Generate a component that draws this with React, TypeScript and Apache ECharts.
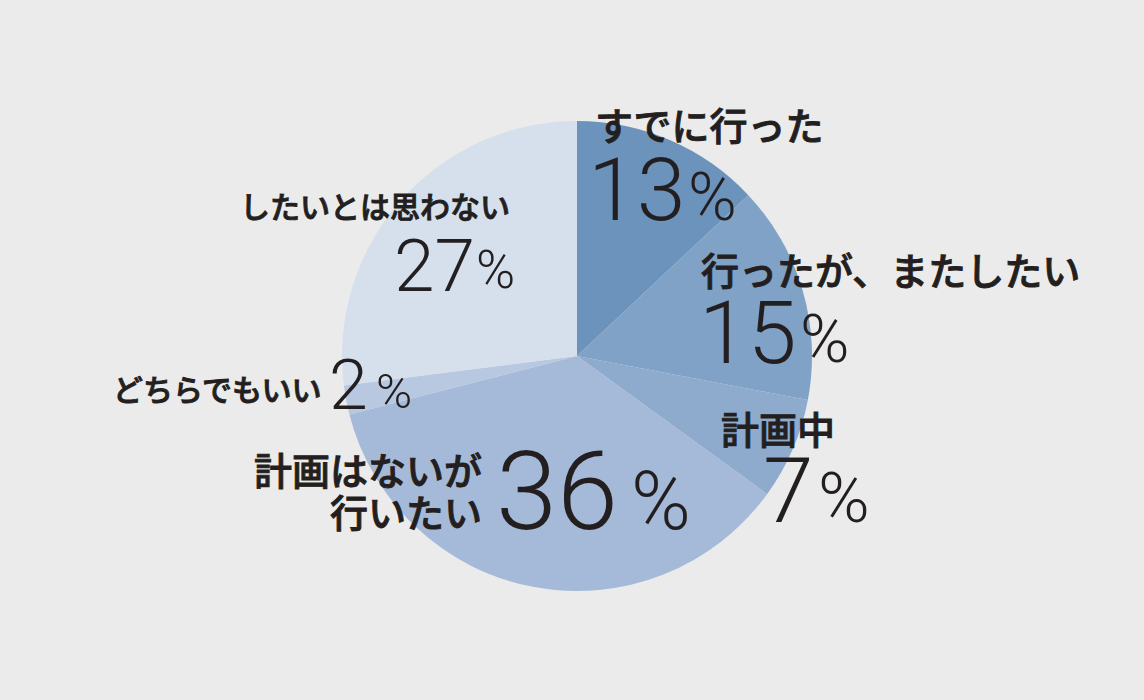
import React, { useEffect, useRef } from 'react';
import * as echarts from 'echarts';

const categories = ['すでに行った', '行ったが、またしたい', '計画中', '計画はないが\n行いたい', 'どちらでもいい', 'したいとは思わない'];
const values = [13, 15, 7, 36, 2, 27];
const sliceColors = ['#6b93bc', '#7fa2c6', '#8eabcd', '#a5bad8', '#b8c8e0', '#d6e0ed'];

// label placement (pixels), kept apart from data
const labelPlaces = [
  { nx: 595, ny: 123, nAlign: 'left', nSize: 38, vx: 588, vy: 189, vSize: 88, px: 688, py: 197, pSize: 66 },
  { nx: 701, ny: 268, nAlign: 'left', nSize: 38, vx: 699, vy: 332, vSize: 88, px: 800, py: 339, pSize: 67 },
  { nx: 721, ny: 427, nAlign: 'left', nSize: 38, vx: 763, vy: 491, vSize: 91, px: 818, py: 498, pSize: 70 },
  { nx: 482, ny: 489, nAlign: 'right', nSize: 38, vx: 496, vy: 491, vSize: 110, px: 631, py: 501, pSize: 81 },
  { nx: 113, ny: 388, nAlign: 'left', nSize: 30, vx: 329, vy: 385, vSize: 70, px: 376, py: 391, pSize: 49 },
  { nx: 510, ny: 205, nAlign: 'right', nSize: 30, vx: 394, vy: 266, vSize: 73, px: 476, py: 270, pSize: 53 },
];

const CJK = '"Noto Sans CJK JP", sans-serif';
const NUM = 'Roboto, "Noto Sans", sans-serif';
const INK = '#231f20';

export default function App() {
  const ref = useRef<HTMLDivElement>(null);
  useEffect(() => {
    if (!ref.current) return;
    const chart = echarts.init(ref.current, undefined, { renderer: 'svg' });
    const texts: any[] = [];
    labelPlaces.forEach((p, i) => {
      texts.push({
        type: 'text', x: p.nx, y: p.ny, silent: true, z: 100,
        style: {
          text: categories[i], fill: INK, stroke: INK, lineWidth: 0.9,
          fontSize: p.nSize, fontFamily: CJK, fontWeight: 500,
          lineHeight: 42, align: p.nAlign, verticalAlign: 'middle', textAlign: p.nAlign, textVerticalAlign: 'middle',
        },
      });
      texts.push({
        type: 'text', x: p.vx, y: p.vy, silent: true, z: 100,
        style: {
          text: String(values[i]), fill: INK, fontSize: p.vSize, fontFamily: NUM, fontWeight: 300,
          align: 'left', verticalAlign: 'middle', textAlign: 'left', textVerticalAlign: 'middle',
        },
      });
      texts.push({
        type: 'text', x: p.px, y: p.py, silent: true, z: 100,
        style: {
          text: '%', fill: INK, fontSize: p.pSize, fontFamily: NUM, fontWeight: 300,
          align: 'left', verticalAlign: 'middle', textAlign: 'left', textVerticalAlign: 'middle',
        },
      });
    });
    chart.setOption({
      animation: false,
      backgroundColor: '#ebebeb',
      series: [
        {
          type: 'pie',
          center: [577, 356],
          radius: 235,
          startAngle: 90,
          clockwise: true,
          silent: true,
          z: 1,
          label: { show: false },
          labelLine: { show: false },
          itemStyle: { borderWidth: 0 },
          data: categories.map((c, i) => ({ name: c, value: values[i], itemStyle: { color: sliceColors[i] } })),
        },
      ],
      graphic: { z: 100, elements: texts },
    });
    return () => chart.dispose();
  }, []);
  return <div ref={ref} style={{ position: 'fixed', left: 0, top: 0, width: 1144, height: 700 }} />;
}
